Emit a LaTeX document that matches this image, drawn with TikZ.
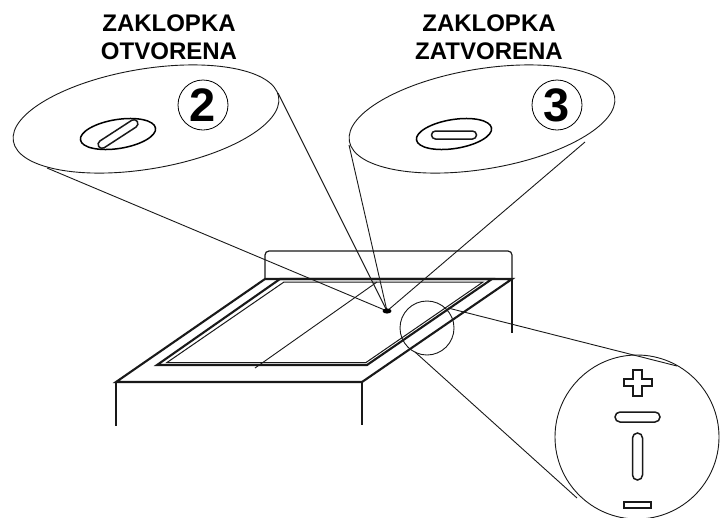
\documentclass[tikz,border=0pt]{standalone}
\usepackage{fontspec}
\setmainfont{Liberation Sans}
\usetikzlibrary{
    shapes,
    shapes.misc
}
\tikzset{
    thinline/.style={line width=0.9pt, black!90},
    bedline/.style={line width=2.1pt, black!90},
    lens/.style={draw, ellipse, line width=0.9pt, black!90, inner sep=0pt, minimum width=269pt, minimum height=100pt, rotate=9.5},
    port/.style={draw, ellipse, line width=1.5pt, black, inner sep=0pt, minimum width=76pt, minimum height=29pt},
    slot/.style={draw, rounded rectangle, line width=1.5pt, black!90, inner sep=0pt},
    badge/.style={draw, circle, line width=0.8pt, inner sep=0pt, minimum size=50pt, font=\bfseries\fontsize{47}{47}\selectfont},
    caption/.style={align=center, inner sep=0pt, font=\bfseries\fontsize{24}{28}\selectfont}
}
\begin{document}
\begin{tikzpicture}[x=1pt, y=-1pt]
            \useasboundingbox (0,0) rectangle (720,517);
            
            % points of the bed
            \coordinate (backL) at (265,279);
            \coordinate (backR) at (512,279);
            \coordinate (frontL) at (116,382);
            \coordinate (frontR) at (362,382);
            \coordinate (latch) at (387,311);
            
            \node[lens] (lens1) at (146,119) {};
            \node[lens] (lens2) at (482,119) {};
            \node[caption] (text1) at (169,37) {ZAKLOPKA\\OTVORENA};
            \node[caption] (text2) at (489,37) {ZAKLOPKA\\ZATVORENA};
            \node[badge] (num2) at (203,105) {2};
            \node[badge] (num3) at (557,105) {3};
            
            \node[port, rotate=9] (port1) at (118,134) {};
            \node[port, rotate=9] (port2) at (454,134) {};
            \node[slot, rotate=33, minimum width=46pt, minimum height=8pt] (slot1) at (118,134) {};
            \node[slot, minimum width=45pt, minimum height=8pt] (slot2) at (454,135) {};
            
            \coordinate (lens1a) at (47,168);
            \coordinate (lens1b) at (278,93);
            \coordinate (lens2a) at (349,145);
            \coordinate (lens2b) at (585,142);
            \draw[thinline] (lens1a)--(latch);
            \draw[thinline] (lens1b)--(latch);
            \draw[thinline] (lens2a)--(latch);
            \draw[thinline] (lens2b)--(latch);
            \fill[black] (latch) ellipse (4.5pt and 2.6pt);
            
            % bed
            \draw[bedline] (frontL)--(backL)--(backR)--(frontR)--cycle;
            \draw[bedline] (frontL)--++(0,44);
            \draw[bedline] (frontR)--++(0,43);
            \draw[bedline] (backR)--++(0,54);
            \draw[line width=1.2pt, black!90, rounded corners=4pt] (backL)--(265,251)--(512,251)--(backR);
            
            % window
            \coordinate (winA) at (280,279);
            \coordinate (winB) at (157,365);
            \coordinate (winC) at (367,365);
            \coordinate (winD) at (492,279);
            \draw[bedline] (winA)--(winB)--(winC)--(winD)--cycle;
            \draw[line width=1pt, black!90] (284,282)--(167,362.5)--(366,362.5)--(483,282)--cycle;
            \coordinate (rodA) at (255,368);
            \coordinate (rodB) at (377,282);
            \draw[thinline] (rodA)--(rodB);
            
            % magnified part
            \node[draw, circle, line width=0.9pt, black!90, inner sep=0pt, minimum size=54pt] (spot) at (427,328) {};
            \node[draw, circle, line width=0.9pt, black!90, inner sep=0pt, minimum size=164pt] (zoomed) at (637,437) {};
            \coordinate (spotA) at (448,308);
            \coordinate (spotB) at (415,352);
            \coordinate (zoomA) at (677,366);
            \coordinate (zoomB) at (577,498);
            \draw[thinline] (spotA)--(zoomA);
            \draw[thinline] (spotB)--(zoomB);
            
            \draw[line width=1.3pt, black!90] (633,370)--(642,370)--(642,379)--(652,379)--(652,386)--(642,386)--(642,396)--(633,396)--(633,386)--(624,386)--(624,379)--(633,379)--cycle;
            \node[slot, minimum width=45pt, minimum height=10pt] (slotH) at (637.5,417) {};
            \node[slot, rotate=90, minimum width=47pt, minimum height=10pt] (slotV) at (637.5,456.5) {};
            \node[draw, line width=1.3pt, black!90, inner sep=0pt, minimum width=27pt, minimum height=6pt] (minus) at (637.5,505) {};
\end{tikzpicture}
\end{document}
